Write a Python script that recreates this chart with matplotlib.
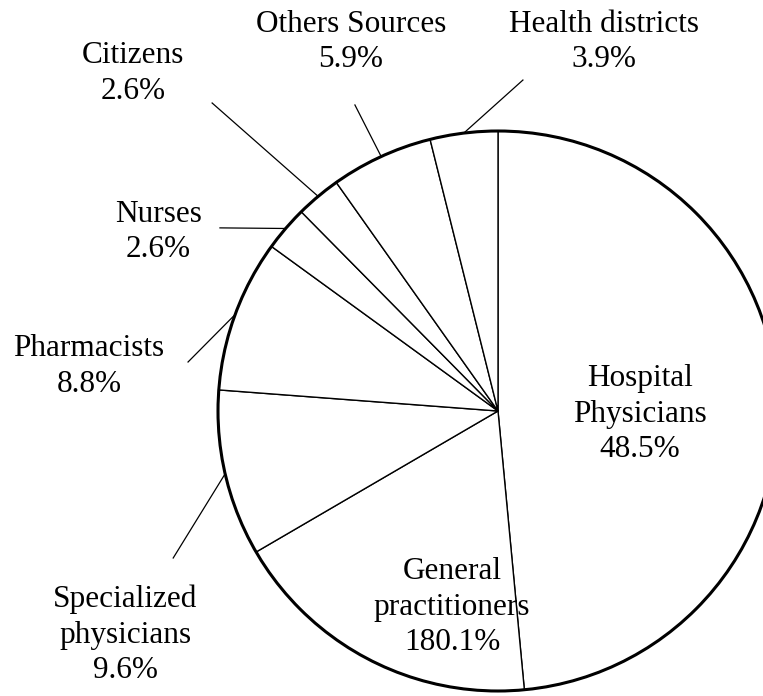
import numpy as np
import matplotlib.pyplot as plt
from matplotlib.patches import Circle

plt.rcParams['font.family'] = ['Liberation Serif', 'DejaVu Serif']

# share of reports by source (clockwise from 12 o'clock)
sources = ['Hospital\nPhysicians', 'General\npractitioners', 'Specialized\nphysicians',
           'Pharmacists', 'Nurses', 'Citizens', 'Others Sources', 'Health districts']
shares = [48.5, 18.1, 9.6, 8.8, 2.6, 2.6, 5.9, 3.9]
pct_text = ['48.5%', '180.1%', '9.6%', '8.8%', '2.6%', '2.6%', '5.9%', '3.9%']

# where each label sits; inside labels have no leader line
label_pos = [(0.507, -0.012), (-0.164, -0.70), (-1.332, -0.80), (-1.461, 0.160),
             (-1.214, 0.640), (-1.304, 1.205), (-0.525, 1.318), (0.379, 1.318)]
leader_end = [None, None, (-1.16, -0.525), (-1.107, 0.175),
              (-0.993, 0.654), (-1.021, 1.10), (-0.511, 1.093), (0.089, 1.182)]

fig = plt.figure(figsize=(7.63, 6.96), dpi=100)
ax = fig.add_axes([0, 0, 1, 1])

wedges, _ = ax.pie(shares, startangle=90, counterclock=False, radius=1.0,
                   colors=['white'] * len(shares),
                   wedgeprops=dict(edgecolor='black', linewidth=1.0))

# heavier outer rim
ax.add_patch(Circle((0, 0), 1.0, fill=False, edgecolor='black', linewidth=2.2))

for w, name, pct, pos, end in zip(wedges, sources, pct_text, label_pos, leader_end):
    ax.text(pos[0], pos[1], name + '\n' + pct, ha='center', va='center',
            fontsize=22.5, linespacing=1.3)
    if end is not None:
        mid = np.deg2rad((w.theta1 + w.theta2) / 2)
        ax.plot([np.cos(mid), end[0]], [np.sin(mid), end[1]], color='black', lw=0.9)

ax.set_xlim(-498 / 280, 265 / 280)
ax.set_ylim(-285 / 280, 411 / 280)
ax.set_aspect('equal')
ax.axis('off')

fig.savefig('out.png', dpi=100)
